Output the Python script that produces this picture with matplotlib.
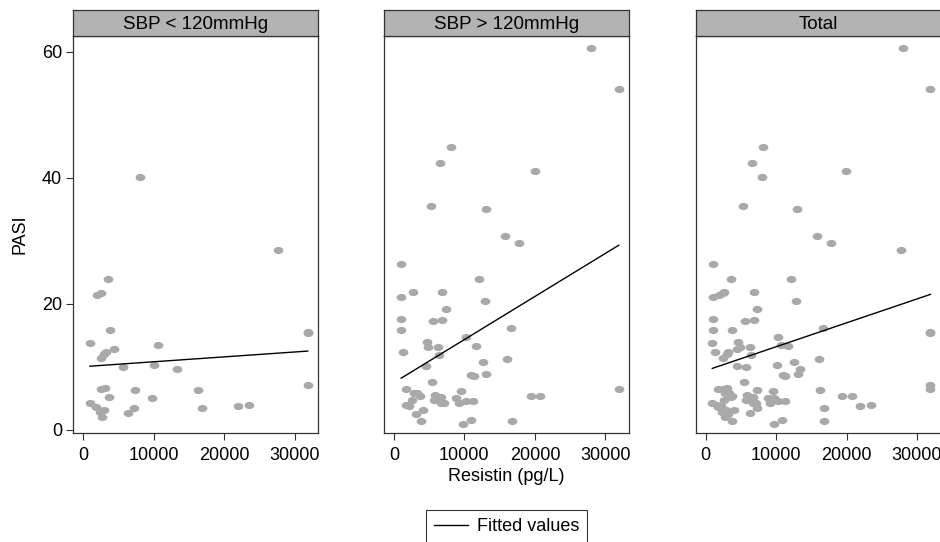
import numpy as np
import matplotlib
matplotlib.use("Agg")
import matplotlib.pyplot as plt
from matplotlib.markers import MarkerStyle
from matplotlib.transforms import Affine2D
from matplotlib.lines import Line2D

plt.rcParams['font.family'] = ['Liberation Sans', 'DejaVu Sans']

# SBP < 120mmHg  (resistin pg/L, PASI)
low_x = [8050, 27700, 3550, 1900, 2460, 3790, 950, 10650, 3200, 4400, 2980, 2460,
         5680, 10100, 13350, 31850, 31850, 31850, 2500, 3080, 3640, 7340, 16300,
         9700, 950, 1800, 2370, 2930, 2740, 6300, 7240, 16800, 21900, 23500]
low_y = [40.2, 28.6, 23.9, 21.4, 21.7, 15.9, 13.8, 13.4, 12.4, 12.8, 12.1, 11.4,
         10.0, 10.3, 9.6, 15.6, 15.3, 7.1, 6.5, 6.7, 5.25, 6.3, 6.3,
         5.0, 4.2, 3.7, 2.9, 3.2, 2.1, 2.6, 3.4, 3.4, 3.8, 3.9]

# SBP > 120mmHg
high_x = [28000, 31900, 8130, 6570, 19950, 5300, 13000, 15800, 17800, 1040, 12060,
          1040, 2650, 6800, 12860, 7330, 1040, 5530, 6800, 1040, 16600, 10260,
          4630, 4820, 6300, 11700, 1320, 6400, 12600, 16100, 4500, 10970, 11300,
          13050, 5440, 1750, 9550, 31900, 2790, 3260, 3740, 5860, 6700, 5670,
          7100, 6700, 8840, 9170, 10260, 11200, 19400, 20700, 2600, 1660, 2200,
          3170, 4100, 3780, 9740, 10900, 16800]
high_y = [60.6, 54.1, 44.9, 42.3, 41.0, 35.5, 35.0, 30.8, 29.7, 26.3, 23.9,
          21.1, 21.8, 21.8, 20.4, 19.1, 17.6, 17.3, 17.4, 15.9, 16.1, 14.8,
          14.0, 13.2, 13.1, 13.3, 12.4, 11.9, 10.8, 11.2, 10.1, 8.7, 8.6,
          8.9, 7.6, 6.5, 6.2, 6.5, 5.8, 5.8, 5.3, 5.6, 5.2, 4.7,
          4.3, 4.3, 5.1, 4.2, 4.5, 4.5, 5.3, 5.3, 4.7, 4.0, 3.8,
          2.5, 3.1, 1.4, 1.0, 1.6, 1.4]

# fitted values at the two ends of each panel
fit_x = [[950, 31850], [1040, 31900], [950, 31900]]
fit_y = [[10.1, 12.5], [8.2, 29.3], [9.75, 21.5]]

panel_titles = ["SBP < 120mmHg", "SBP > 120mmHg", "Total"]
x_ticks = [0, 10000, 20000, 30000]
y_ticks = [0, 20, 40, 60]

groups = [
    (low_x, low_y),
    (high_x, high_y),
    (low_x + high_x, low_y + high_y),
]

fig = plt.figure(figsize=(9.4, 5.42), dpi=100)
W, H = 940, 542
lefts = [73.3, 384, 695.7]
pw = 245
ax_top, ax_bot, strip_top = 36, 433, 10

dot = MarkerStyle('o', transform=Affine2D().scale(1.35, 1.0))
frame_col = '#333333'
fs = 13

for i, (title, (x, y)) in enumerate(zip(panel_titles, groups)):
    ax = fig.add_axes([lefts[i] / W, (H - ax_bot) / H, pw / W, (ax_bot - ax_top) / H])
    ax.scatter(x, y, s=27, marker=dot, color='#a9a9a9', linewidths=0, zorder=2)
    ax.plot(fit_x[i], fit_y[i], color='black', lw=1.0, zorder=3)
    ax.set_xlim(-1400, 33350)
    ax.set_ylim(-0.5, 62.5)
    ax.set_xticks(x_ticks)
    ax.set_xticklabels([str(t) for t in x_ticks], fontsize=fs)
    ax.tick_params(axis='x', direction='out', length=5, width=0.8, color=frame_col, pad=5)
    if i == 0:
        ax.set_yticks(y_ticks)
        ax.set_yticklabels([str(t) for t in y_ticks], fontsize=fs)
        ax.tick_params(axis='y', direction='out', length=5, width=0.8, color=frame_col, pad=3)
        ax.set_ylabel("PASI", fontsize=fs, labelpad=10)
    else:
        ax.set_yticks([])
    if i == 1:
        ax.set_xlabel("Resistin (pg/L)", fontsize=fs, labelpad=3)
    for sp in ax.spines.values():
        sp.set_color(frame_col)
        sp.set_linewidth(0.9)

    # strip header
    sax = fig.add_axes([lefts[i] / W, (H - ax_top) / H, pw / W, (ax_top - strip_top) / H])
    sax.set_facecolor('#b3b3b3')
    sax.set_xticks([])
    sax.set_yticks([])
    for sp in sax.spines.values():
        sp.set_color(frame_col)
        sp.set_linewidth(0.9)
    sax.text(0.5, 0.45, title, ha='center', va='center', fontsize=13.5, transform=sax.transAxes)

handle = Line2D([], [], color='black', lw=1.0)
leg = fig.legend([handle], ["Fitted values"], loc='upper center',
                 bbox_to_anchor=(506.5 / W, (H - 510) / H), fontsize=fs,
                 frameon=True, fancybox=False, handlelength=1.9, handletextpad=0.45,
                 borderpad=0.45, borderaxespad=0)
leg.get_frame().set_edgecolor('black')
leg.get_frame().set_linewidth(0.8)

fig.savefig("out.png", dpi=100)
